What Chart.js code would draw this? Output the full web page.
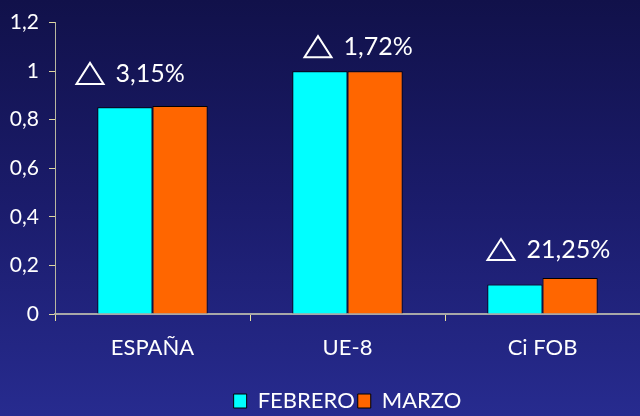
<!DOCTYPE html>
<html>
<head>
<meta charset="utf-8">
<script src="https://cdn.jsdelivr.net/npm/chart.js@4/dist/chart.umd.min.js"></script>
<style>
  html, body { margin: 0; padding: 0; }
  body {
    width: 640px; height: 416px;
    background: linear-gradient(to bottom, #11114a 0%, #1b1c6c 50%, #272b8f 100%);
  }
  #wrap { width: 640px; height: 416px; position: relative; }
</style>
</head>
<body>
<div id="wrap"><canvas id="indices"></canvas></div>
<script>
const categories = ['ESPAÑA', 'UE-8', 'Ci FOB'];
const febrero = [0.851, 1.0, 0.121];
const marzo = [0.857, 1.0, 0.148];
const variacion = ['3,15%', '1,72%', '21,25%'];

// where each change note sits relative to its pair of bars
const noteDx = [-76, -43, -55];
const noteGap = [22, 14, 18];

const FONT = 'Lato, "DejaVu Sans", sans-serif';

const notesPlugin = {
  id: 'notes',
  afterDatasetsDraw(chart) {
    const { ctx, scales } = chart;
    ctx.save();
    ctx.strokeStyle = '#ffffff';
    ctx.fillStyle = '#ffffff';
    ctx.lineWidth = 2;
    ctx.font = '25px ' + FONT;
    ctx.textBaseline = 'alphabetic';
    variacion.forEach((txt, i) => {
      const x0 = scales.x.getPixelForValue(i) + noteDx[i];
      const top = Math.max(febrero[i], marzo[i]);
      const yb = scales.y.getPixelForValue(top) - noteGap[i];
      ctx.beginPath();
      ctx.moveTo(x0, yb);
      ctx.lineTo(x0 + 27, yb);
      ctx.lineTo(x0 + 13.5, yb - 21);
      ctx.closePath();
      ctx.stroke();
      ctx.fillText(txt, x0 + 39, yb - 2);
    });
    ctx.restore();
  }
};

new Chart(document.getElementById('indices'), {
  type: 'bar',
  data: {
    labels: categories,
    datasets: [
      {
        label: 'FEBRERO',
        data: febrero,
        backgroundColor: '#00ffff',
        borderColor: '#000000',
        borderWidth: 1,
      },
      {
        label: 'MARZO',
        data: marzo,
        backgroundColor: '#ff6600',
        borderColor: '#000000',
        borderWidth: 1,
      },
    ],
  },
  options: {
    responsive: true,
    maintainAspectRatio: false,
    animation: false,
    categoryPercentage: 0.566,
    barPercentage: 1,
    layout: { padding: { top: 10, right: 0, left: 0, bottom: -6 } },
    plugins: {
      legend: {
        position: 'bottom',
        fullSize: false,
        labels: {
          color: '#ffffff',
          font: { family: FONT, size: 22 },
          boxWidth: 13,
          boxHeight: 14,
          padding: 3,
        },
      },
      tooltip: { enabled: false },
    },
    scales: {
      x: {
        offset: true,
        grid: {
          display: true,
          drawOnChartArea: false,
          color: '#e8e0a0',
          tickLength: 7,
        },
        border: { color: '#a8a8a8', width: 2 },
        ticks: {
          color: '#ffffff',
          font: { family: FONT, size: 22 },
          padding: 14,
        },
        afterFit(scale) { scale.height = 73; },
      },
      y: {
        min: 0,
        max: 1.2,
        ticks: {
          stepSize: 0.2,
          color: '#ffffff',
          font: { family: FONT, size: 21 },
          padding: 10,
          callback: v => String(Math.round(v * 10) / 10).replace('.', ','),
        },
        grid: {
          display: true,
          drawOnChartArea: false,
          color: '#e0d8a0',
          tickLength: 6,
        },
        border: { color: '#b8b8a0', width: 1 },
        afterFit(scale) { scale.width = 55; },
      },
    },
  },
  plugins: [notesPlugin],
});
</script>
</body>
</html>
